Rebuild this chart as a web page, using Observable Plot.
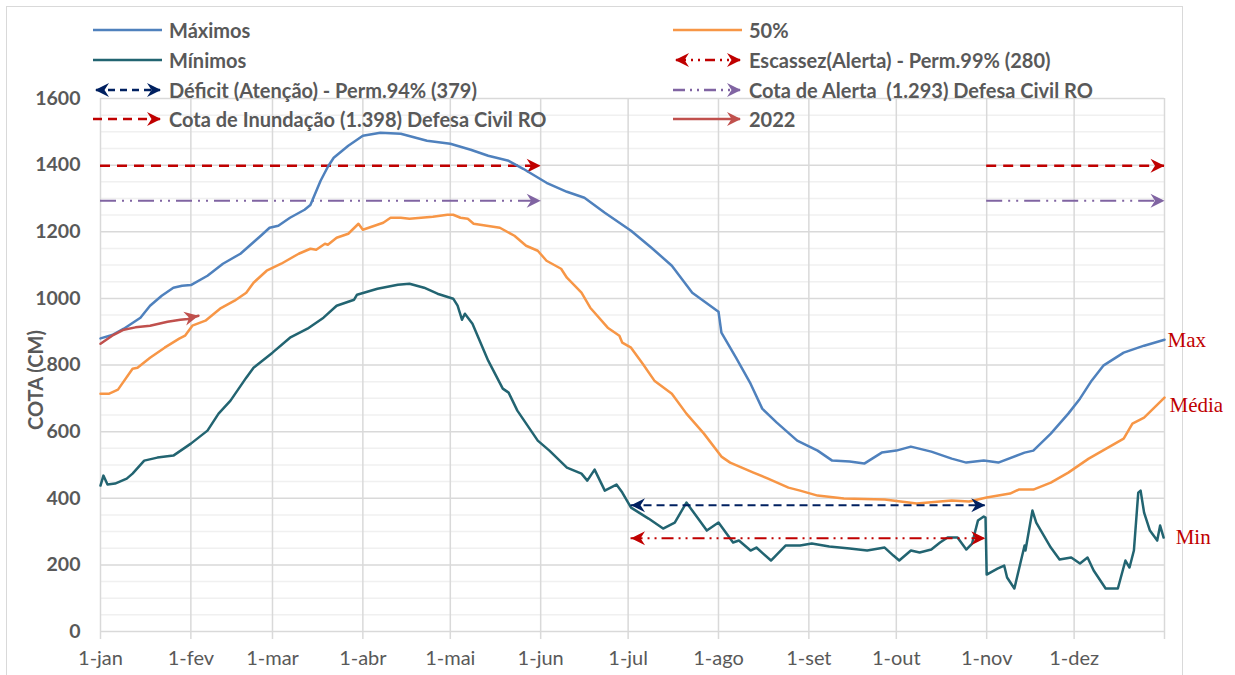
<!DOCTYPE html>
<html><head><meta charset="utf-8">
<script src="https://cdn.jsdelivr.net/npm/d3@7"></script>
<script src="https://cdn.jsdelivr.net/npm/@observablehq/plot@0.6"></script>
<style>
body{margin:0;background:#fff;}
#wrap{position:relative;width:1235px;height:675px;overflow:hidden;font-family:Lato,sans-serif;background:#fff}
#frame{position:absolute;left:6px;top:6px;width:1177px;height:720px;border:1px solid #d9d9d9;box-sizing:border-box;}
#chart{position:absolute;left:0;top:0}
.leg{position:absolute;display:flex;align-items:center;height:24px;font-weight:bold;font-size:20px;color:#595959;white-space:pre}
.leg svg{margin-right:6px;overflow:visible}
#ylab{position:absolute;left:35px;top:380px;transform:translate(-50%,-50%) rotate(-90deg);font-weight:bold;font-size:20px;color:#595959;white-space:nowrap}
</style></head><body>
<div id="wrap"><div id="frame"></div><div id="chart"></div><div id="legend"></div><div id="ylab">COTA (CM)</div></div>
<script>
// ---- data (day of year, cota in cm) ----
const maxDays = [0,4,8,13.7,17,21,25,28,31,36.7,42,48,55,58,61,65,70,72,75.5,78,80,85,90,96,103,112,120,127,133,140,145,153,160,166,173,182,189,196,203,212,213,218,223,227,232,239,246,251,257,262,268,273,278,285,292,297,303,308,317,320,326,332,336,340,344,351,358,365];
const maxVals = [880,890,909,942,978,1008,1032,1038,1040,1068,1104,1134,1188,1212,1218,1242,1266,1280,1353,1395,1422,1458,1488,1497,1494,1473,1464,1446,1428,1413,1389,1347,1320,1302,1257,1203,1152,1098,1017,960,897,822,744,669,627,573,543,513,510,504,537,543,555,540,519,507,513,507,537,543,594,654,699,753,798,837,858,876];

const medDays = [0,3,6,11,12.7,17,22,27,29,31.5,36,41,46,50,52.5,57,62,68,72,74,77,78,81,85,88.5,90,94,97,99.5,103,106,110,114,119,121,123.5,126,128,137,142,146,150,153,158,160,165,168,174,178,179,182,186,190,196,201,207,213,216,220,224,229,236,240,246,255,269,280,292,298,304,312,315,320,326,332,339,345,351,354,358,365];
const medVals = [714,714,726,789,792,822,852,879,888,918,933,969,993,1017,1047,1083,1104,1134,1149,1146,1164,1161,1182,1194,1224,1206,1218,1227,1242,1242,1239,1242,1245,1251,1251,1242,1239,1224,1212,1188,1158,1143,1113,1089,1062,1017,972,912,888,867,852,804,753,714,654,594,525,507,492,477,459,432,423,408,399,396,384,393,390,402,414,426,426,447,477,519,549,579,624,642,702];

const minDays = [0,1,2.4,5,9,11,15,19.5,25,31,36.7,40.5,44.6,50,52.5,59,65,71,76.5,81,87,88,95,102,106,111,115.6,121,122.5,124,125,127.6,133,138,140,143,146.5,150,154,160,165,167,169.5,173,177,179,182,188,193,197,201,203.5,208,212,217,219,223,225,230,235,240,244,250,257,263,269,272,274,278,281,285,288,290.6,294,297,299,301,303,303.6,304,307.7,310,311,313.5,317,317.3,319.7,321,326,329,333,336,338.6,340.7,344.8,349,351.6,353,354.5,356,356.8,358,360,362.5,363.5,364.7];
const minVals = [438,468,441,444,459,474,513,522,528,564,603,654,693,762,792,837,882,909,942,978,996,1011,1029,1041,1044,1032,1014,999,978,936,954,924,813,729,717,663,618,573,543,492,474,453,486,423,441,417,372,339,309,327,387,357,303,327,267,273,243,252,213,258,258,264,255,249,243,252,228,213,243,237,246,267,282,282,246,264,333,345,342,171,189,198,162,129,258,243,363,327,252,216,222,204,222,183,129,129,213,192,243,417,423,357,303,273,318,282];

const y2022Days = [0,4,8,12,17,23,27.4,30,33.6];
const y2022Vals = [864,888,906,913,918,930,936,938,948];

const levelNames = ["Cota de Inundação (1.398) Defesa Civil RO","Cota de Alerta  (1.293) Defesa Civil RO","Déficit (Atenção) - Perm.94% (379)","Escassez(Alerta) - Perm.99% (280)"];
const levelValues = [1398,1293,379,280];
const floodSpans = [[0,151],[304,365]];     // days covered by flood / alert arrows
const droughtSpan = [182,303.5];            // days covered by deficit / scarcity arrows

const monthTicks = [0,31,59,90,120,151,181,212,243,273,304,334,365];
const monthLabels = ["1-jan","1-fev","1-mar","1-abr","1-mai","1-jun","1-jul","1-ago","1-set","1-out","1-nov","1-dez",""];
const yTicks = [0,200,400,600,800,1000,1200,1400,1600];
const yMinor = d3.range(50,1600,50).filter(v => v % 200 !== 0);

const seriesNames = ["Máximos","50%","Mínimos","2022"];
const C = {max:"#4F81BD", med:"#F79646", min:"#226471", y22:"#C0504D", purple:"#8064A2", red:"#C00000", navy:"#002060"};

// ---- build ----
const rows = (ds, vs) => ds.map((d,i)=>({day:d, v:vs[i]}));
const stealth = (len, half, notch) => ({draw(ctx){ctx.moveTo(0,0);ctx.lineTo(-len,-half);ctx.lineTo(-len+notch,0);ctx.lineTo(-len,half);ctx.closePath();}});
const head = stealth(14, 7, 4.5);

const floodRows = floodSpans.map(s => ({x1:s[0], x2:s[1], v:levelValues[0]}));
const alertRows = floodSpans.map(s => ({x1:s[0], x2:s[1], v:levelValues[1]}));
const defRows = [{x1:droughtSpan[0], x2:droughtSpan[1], v:levelValues[2]}];
const escRows = [{x1:droughtSpan[0], x2:droughtSpan[1], v:levelValues[3]}];

const maxR = rows(maxDays,maxVals), medR = rows(medDays,medVals), minR = rows(minDays,minVals), y22R = rows(y2022Days,y2022Vals);

const chart = Plot.plot({
  width:1235, height:675,
  marginLeft:100, marginRight:71, marginTop:98, marginBottom:44,
  x:{domain:[0,365]}, y:{domain:[0,1600]},
  style:{fontFamily:"Lato, sans-serif", background:"transparent", overflow:"visible"},
  marks:[
    Plot.gridY(yMinor, {stroke:"#f0f0f0", strokeOpacity:1, strokeWidth:1.5}),
    Plot.gridY(yTicks, {stroke:"#d9d9d9", strokeOpacity:1, strokeWidth:1.5}),
    Plot.gridX(monthTicks, {stroke:"#d9d9d9", strokeOpacity:1, strokeWidth:1.5}),
    Plot.axisX(monthTicks, {tickSize:8, stroke:"#d9d9d9", strokeWidth:1.5, tickFormat:()=>"", label:null}),
    Plot.axisX(monthTicks, {tickSize:0, tickPadding:19, fontSize:20, fill:"#595959", tickFormat:(d)=>monthLabels[monthTicks.indexOf(d)], label:null}),
    Plot.axisY(yTicks, {tickSize:0, tickPadding:20, fontSize:19.5, fontWeight:"bold", fill:"#595959", tickFormat:(d)=>String(d), label:null}),
    // level arrows
    Plot.ruleY(floodRows, {y:"v", x1:"x1", x2:"x2", stroke:C.red, strokeWidth:2.5, strokeDasharray:"10,7"}),
    Plot.dot(floodRows, {x:"x2", y:"v", symbol:head, fill:C.red, stroke:"none"}),
    Plot.ruleY(alertRows, {y:"v", x1:"x1", x2:"x2", stroke:C.purple, strokeWidth:2, strokeDasharray:"16,6,2,6,2,6"}),
    Plot.dot(alertRows, {x:"x2", y:"v", symbol:head, fill:C.purple, stroke:"none"}),
    // series
    Plot.line(medR, {x:"day", y:"v", stroke:C.med, strokeWidth:2.5}),
    Plot.line(maxR, {x:"day", y:"v", stroke:C.max, strokeWidth:2.5}),
    Plot.line(minR, {x:"day", y:"v", stroke:C.min, strokeWidth:2.5}),
    Plot.line(y22R, {x:"day", y:"v", stroke:C.y22, strokeWidth:2.5}),
    Plot.dot(y22R.slice(-1), {x:"day", y:"v", symbol:head, fill:C.y22, stroke:"none", rotate:-12}),
    Plot.ruleY(defRows, {y:"v", x1:"x1", x2:"x2", stroke:C.navy, strokeWidth:2, strokeDasharray:"8,5"}),
    Plot.dot(defRows, {x:"x2", y:"v", symbol:head, fill:C.navy, stroke:"none"}),
    Plot.dot(defRows, {x:"x1", y:"v", symbol:head, fill:C.navy, stroke:"none", rotate:180}),
    Plot.ruleY(escRows, {y:"v", x1:"x1", x2:"x2", stroke:C.red, strokeWidth:2, strokeDasharray:"12,5,2,5,2,5"}),
    Plot.dot(escRows, {x:"x2", y:"v", symbol:head, fill:C.red, stroke:"none"}),
    Plot.dot(escRows, {x:"x1", y:"v", symbol:head, fill:C.red, stroke:"none", rotate:180}),
    // end labels
    Plot.text(maxR.slice(-1), {x:"day", y:"v", text:()=>"Max", textAnchor:"start", dx:3, dy:1, fontFamily:"Liberation Serif", fontSize:21, fill:C.red}),
    Plot.text(medR.slice(-1), {x:"day", y:"v", text:()=>"Média", textAnchor:"start", dx:5, dy:8, fontFamily:"Liberation Serif", fontSize:21, fill:C.red}),
    Plot.text(minR.slice(-1), {x:"day", y:"v", text:()=>"Min", textAnchor:"start", dx:12, dy:0, fontFamily:"Liberation Serif", fontSize:21, fill:C.red})
  ]
});
document.getElementById("chart").appendChild(chart);

// ---- legend ----
const legendItems = [
  {label:seriesNames[0], color:C.max, dash:null, l:false, r:false, col:0, row:0},
  {label:seriesNames[2], color:C.min, dash:null, l:false, r:false, col:0, row:1},
  {label:levelNames[2], color:C.navy, dash:"7,5", l:true, r:true, col:0, row:2},
  {label:levelNames[0], color:C.red, dash:"9,6", l:false, r:true, col:0, row:3},
  {label:seriesNames[1], color:C.med, dash:null, l:false, r:false, col:1, row:0},
  {label:levelNames[3], color:C.red, dash:"10,5,2,5,2,5", l:true, r:true, col:1, row:1},
  {label:levelNames[1], color:C.purple, dash:"12,5,2,5,2,5", l:false, r:true, col:1, row:2},
  {label:seriesNames[3], color:C.y22, dash:null, l:false, r:true, col:1, row:3}
];
const colX = [93, 673], rowY = [30, 60, 90, 119];
const leg = document.getElementById("legend");
const arrowPath = (tx, dir) => `M${tx},10 L${tx-dir*14},${10-7} L${tx-dir*9.5},10 L${tx-dir*14},${10+7}Z`;
for (const it of legendItems) {
  const div = document.createElement("div");
  div.className = "leg";
  div.style.left = colX[it.col] + "px";
  div.style.top = (rowY[it.row] - 12) + "px";
  const x1 = it.l ? 3 : 0, x2 = it.r ? 67 : 69;
  let s = `<svg width="70" height="20"><line x1="${x1}" y1="10" x2="${x2}" y2="10" stroke="${it.color}" stroke-width="2.5" ${it.dash?`stroke-dasharray="${it.dash}"`:""}/>`;
  if (it.l) s += `<path d="${arrowPath(2,-1)}" fill="${it.color}"/>`;
  if (it.r) s += `<path d="${arrowPath(68,1)}" fill="${it.color}"/>`;
  s += `</svg>`;
  div.innerHTML = s + `<span>${it.label}</span>`;
  leg.appendChild(div);
}
</script></body></html>
